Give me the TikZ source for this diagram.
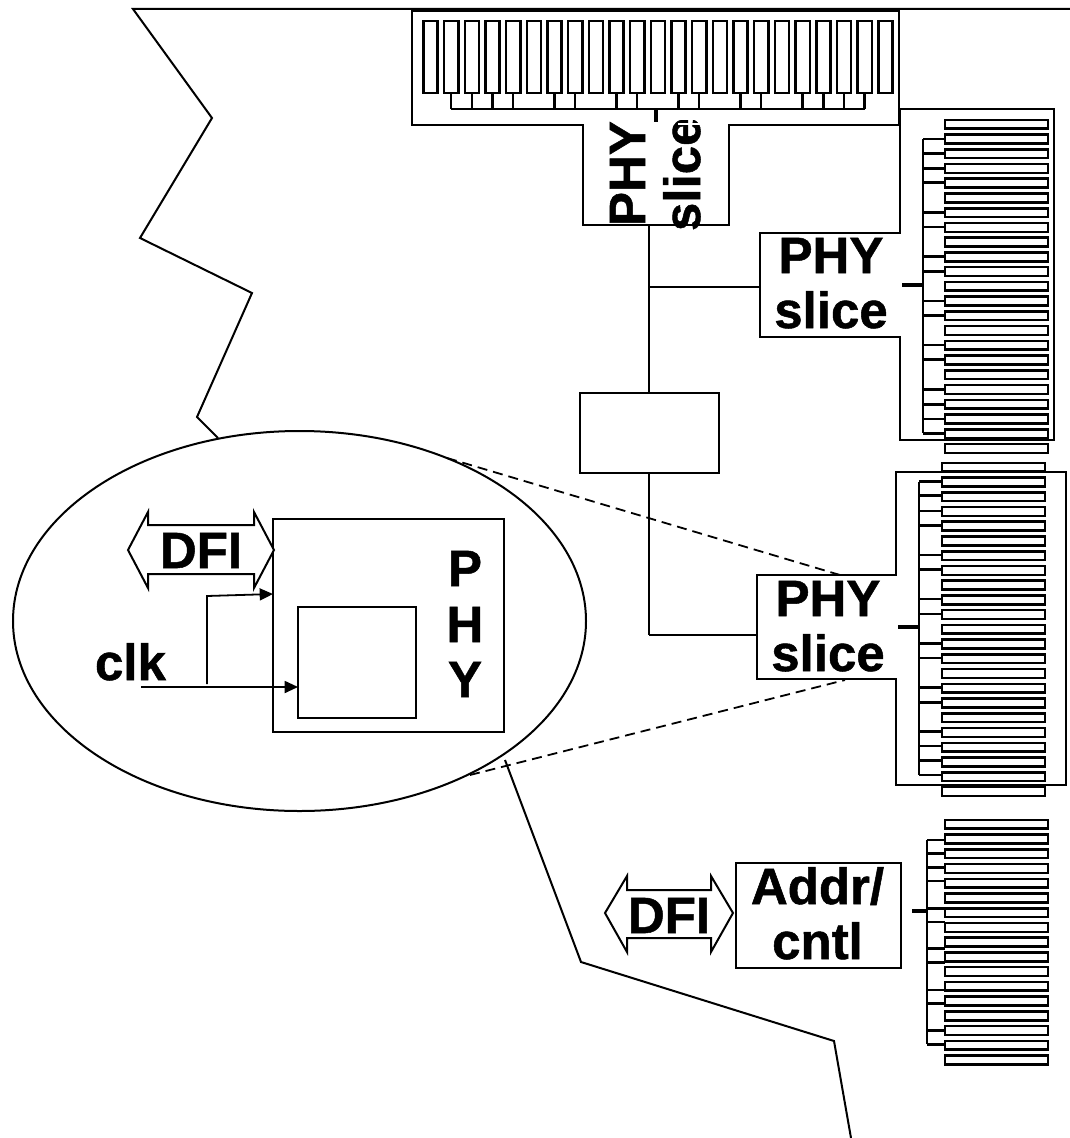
\documentclass[tikz,border=0pt]{standalone}
\usepackage{fontspec}
\setmainfont{Liberation Sans}[BoldFeatures={FakeBold=1}]
\usetikzlibrary{shapes.geometric,arrows.meta}
\tikzset{
  ln/.style={draw=black,line width=1.5pt,line join=miter},
  boxnode/.style={draw=black,fill=white,line width=1.5pt,rectangle,inner sep=0pt,outer sep=0pt},
  pad/.style={draw=black,fill=white,line width=1.9pt},
  busln/.style={draw=black,line width=1.9pt},
  mainbus/.style={draw=black,line width=2.1pt},
  stemln/.style={draw=black,line width=2.4pt},
  lbl/.style={font=\fontsize{38.25}{40}\selectfont\bfseries,anchor=base,inner sep=0pt,outer sep=0pt},
  flow/.style={draw=black,line width=1.35pt,-{Triangle[length=10pt,width=9pt]}},
  dash line/.style={draw=black,line width=1.35pt,dash pattern=on 7.5pt off 4.5pt}
}
\newcommand{\vstack}[4]{% x0, x1, ytop, count-1
  \foreach \i in {0,...,#4}{\path[pad] (#1,{#3+14.74*\i+0.8}) rectangle (#2,{#3+14.74*\i+9.6});}
}
\begin{document}
\begin{tikzpicture}[x=0.75pt,y=-0.75pt]
\useasboundingbox[fill=white] (0,0) rectangle (1070,1138);
% torn outline of the chip
\coordinate (tl) at (133,9); \coordinate (tr) at (1070,9);
\path[ln] (tr) -- (tl) -- (212,118) -- (140,238) -- (252,293) -- (197,417) -- (218,438);
\path[ln] (505,760) -- (581,962) -- (834,1041) -- (851,1138);
% zoom ellipse
\node[ellipse,draw=black,fill=white,line width=1.5pt,minimum width=429.75pt,minimum height=285pt,inner sep=0pt,outer sep=0pt] (lens) at (299.5,621) {};
% PHY detail
\node[boxnode,minimum width=173.25pt,minimum height=159.75pt] (phy) at (388.5,625.5) {};
\node[boxnode,minimum width=88.5pt,minimum height=83.25pt] (core) at (357,662.5) {};
\path[ln,fill=white] (128,550) -- (148,512) -- (148,525) -- (254,525) -- (254,512) -- (274,550) -- (254,588) -- (254,574) -- (148,574) -- (148,588) -- cycle;
\node[lbl] (dfia) at (201,568) {DFI};
\node[lbl] (p) at (465,586) {P};
\node[lbl] (h) at (465,642) {H};
\node[lbl] (y) at (465,697) {Y};
\node[lbl,anchor=base west] (clk) at (95,680) {clk};
\coordinate (clkstart) at (141,687);
\coordinate (tap) at (207,684);
\coordinate (tapc) at (207,596);
\path[flow] (clkstart) -- (core.west |- clkstart);
\path[flow] (tap) -- (tapc) -- (phy.west |- 0,594);
% central bus
\coordinate (bustop) at (649,225);
\coordinate (busbot) at (649,635);
\coordinate (busa) at (649,287);
\path[mainbus] (bustop) -- (busbot);
\node[boxnode,minimum width=104.25pt,minimum height=60pt] (mid) at (649.5,433) {};
% zoom dashes
\coordinate (da) at (447,458); \coordinate (db) at (840,575);
\coordinate (dc) at (470,775); \coordinate (dd) at (845,680);
\path[dash line] (da) -- (db);
\path[dash line] (dc) -- (dd);
% top slice
\path[ln,fill=white] (412,11) -- (899,11) -- (899,125) -- (729,125) -- (729,225) -- (583,225) -- (583,125) -- (412,125) -- cycle;
\path[draw=black,line width=2pt] (412,9) -- (899,9);
\foreach \i in {0,...,22}{\path[pad] ({423.5+20.67*\i},21) rectangle ({423.5+20.67*\i+14.2},93);}
\foreach \i in {1,2,3,4,6,7,9,10,12,13,15,16,18,19,20,21}{\path[busln] ({430.5+20.67*\i},93) -- +(0,16);}
\path[busln] (451,109) -- (865,109);
\coordinate (tbus) at (656,109); \coordinate (tstem) at (656,122);
\path[stemln] (tbus) -- (tstem);
\begin{scope}
\clip (583,120) rectangle (729,240);
\node[lbl,rotate=90,anchor=base west] (ta) at (645,226) {PHY};
\node[lbl,rotate=90,anchor=base west] (tb) at (700,231) {slice};
\end{scope}
\path[fill=white] (678,122.5) rectangle (700,124.5);
\path[mainbus] (bustop) -- (649,232);
% right slice 1
\path[ln,fill=white] (900,109) -- (1054,109) -- (1054,440) -- (900,440) -- (900,337) -- (760,337) -- (760,233) -- (900,233) -- cycle;
\path[ln] (899,125) -- (899,109);
\path[mainbus] (busa) -- (760,287);
\vstack{945}{1048}{119}{22}
\coordinate (b1t) at (923,139); \coordinate (b1b) at (923,433);
\foreach \y in {139,153.3,168.3,182.7,212.7,227,256.7,271.7,301,315.7,345,359.3,389.3,404.3,419,433.3}{\path[busln] (b1t |- 0,\y) -- (945,\y);}
\path[busln] (b1t) -- (b1b);
\coordinate (s1) at (902,285); \coordinate (s1e) at (923,285);
\path[stemln] (s1) -- (s1e);
\node[lbl] (a1) at (831,273) {PHY};
\node[lbl] (a2) at (831,328) {slice};
% right slice 2
\path[ln,fill=white] (896,472) -- (1066,472) -- (1066,785) -- (896,785) -- (896,679) -- (757,679) -- (757,575) -- (896,575) -- cycle;
\path[draw=none,fill=white] (890,577) rectangle (898.5,677);
\path[mainbus] (busbot) -- (757,635);
\vstack{942}{1045}{462}{22}
\coordinate (b2t) at (919,482); \coordinate (b2b) at (919,775);
\foreach \y in {481.7,495.7,511,525.7,555,569.3,599,614,643.3,658,687.3,702.3,731.7,746,760.7,775}{\path[busln] (b2t |- 0,\y) -- (942,\y);}
\path[busln] (b2t) -- (b2b);
\coordinate (s2) at (898,627); \coordinate (s2e) at (919,627);
\path[stemln] (s2) -- (s2e);
\node[lbl] (a3) at (828,616) {PHY};
\node[lbl] (a4) at (828,671) {slice};
% addr/cntl
\node[boxnode,minimum width=123.75pt,minimum height=78.75pt] (addr) at (818.5,915.5) {};
\path[ln,fill=white] (605,913) -- (627,876) -- (627,890) -- (711,890) -- (711,876) -- (733,913) -- (711,952) -- (711,938) -- (627,938) -- (627,952) -- cycle;
\node[lbl] (dfib) at (669,933) {DFI};
\node[lbl] (a5) at (817.5,904) {Addr/};
\node[lbl] (a6) at (817.5,959) {cntl};
\vstack{945}{1048}{819}{16}
\coordinate (b3t) at (927,840); \coordinate (b3b) at (927,1044.3);
\foreach \y in {840,853.7,867.7,881,908.3,922,948.7,962.7,990,1003.3,1030.7,1044.3}{\path[busln] (b3t |- 0,\y) -- (945,\y);}
\path[busln] (b3t) -- (b3b);
\coordinate (s3) at (912,911); \coordinate (s3e) at (927,911);
\path[stemln] (s3) -- (s3e);
\end{tikzpicture}
\end{document}
